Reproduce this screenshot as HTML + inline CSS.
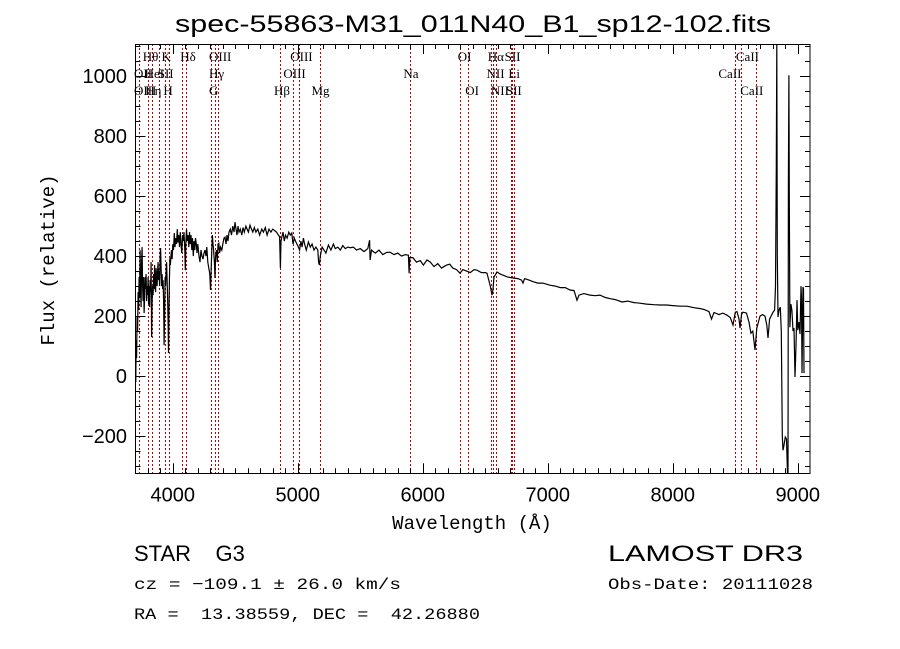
<!DOCTYPE html>
<html><head><meta charset="utf-8"><style>
html,body{margin:0;padding:0;background:#fff;}
svg{display:block;}
text{white-space:pre;}
</style></head><body>
<svg id="chart" width="900" height="649" xmlns="http://www.w3.org/2000/svg" font-family="Liberation Sans, sans-serif">
<rect x="0" y="0" width="900" height="649" fill="#fff"/>
<text x="473" y="32" font-size="24" text-anchor="middle" textLength="596" lengthAdjust="spacingAndGlyphs">spec-55863-M31_011N40_B1_sp12-102.fits</text>
<g id="lines"></g>
<g id="labels" font-family="Liberation Serif, serif" font-size="13"></g>
<path id="spec" fill="none" stroke="#000" stroke-width="1.2"/>
<rect x="135.5" y="44.5" width="674.5" height="429" fill="none" stroke="#000" stroke-width="1"/>
<g id="axes"></g>
<text x="472" y="529" font-size="19" text-anchor="middle" font-family="Liberation Mono, monospace">Wavelength (Å)</text>
<text transform="translate(54,260) rotate(-90)" font-size="19" text-anchor="middle" font-family="Liberation Mono, monospace">Flux (relative)</text>
<text x="134" y="561" font-size="22" font-family="Liberation Sans, sans-serif" xml:space="preserve">STAR    G3</text>
<text x="608" y="561" font-size="22" font-family="Liberation Sans, sans-serif" textLength="195" lengthAdjust="spacingAndGlyphs">LAMOST DR3</text>
<text x="134" y="589" font-size="16" font-family="Liberation Mono, monospace" textLength="267" lengthAdjust="spacingAndGlyphs">cz = −109.1 ± 26.0 km/s</text>
<text x="608" y="589" font-size="16" font-family="Liberation Mono, monospace" textLength="205" lengthAdjust="spacingAndGlyphs">Obs-Date: 20111028</text>
<text x="134" y="619" font-size="16" font-family="Liberation Mono, monospace" textLength="346" lengthAdjust="spacingAndGlyphs" xml:space="preserve">RA =  13.38559, DEC =  42.26880</text>
</svg>
<script>
const wave=[3704,3707,3711,3715,3719,3723,3727,3731,3735,3739,3743,3747,3751,3755,3759,3763,3767,3771,3775,3779,3783,3787,3791,3795,3799,3803,3807,3811,3815,3819,3823,3827,3831,3835,3839,3843,3847,3851,3855,3859,3863,3867,3871,3875,3879,3883,3887,3891,3895,3899,3903,3907,3911,3915,3919,3923,3927,3931,3935,3939,3943,3947,3951,3955,3959,3963,3966,3969,3973,3977,3981,3985,3990,3995,4000,4006,4012,4018,4024,4030,4036,4042,4048,4054,4060,4066,4072,4078,4084,4090,4096,4100,4104,4110,4116,4122,4128,4134,4140,4146,4152,4158,4164,4170,4176,4182,4188,4194,4200,4210,4218,4226,4234,4242,4250,4258,4266,4272,4280,4288,4296,4302,4306,4312,4317,4322,4327,4333,4338,4343,4350,4356,4362,4368,4375,4382,4392,4400,4410,4418,4426,4434,4442,4450,4460,4470,4480,4490,4498,4506,4514,4522,4530,4540,4552,4562,4572,4585,4595,4605,4618,4630,4640,4652,4665,4680,4695,4712,4725,4740,4755,4770,4785,4800,4815,4830,4845,4855,4861,4866,4872,4882,4892,4902,4915,4928,4940,4952,4962,4972,4982,4994,5005,5015,5025,5035,5045,5055,5068,5085,5100,5115,5130,5145,5160,5167,5173,5180,5195,5210,5225,5245,5265,5285,5300,5320,5340,5360,5380,5400,5420,5445,5470,5500,5530,5560,5575,5579,5590,5620,5650,5680,5710,5738,5770,5800,5830,5860,5885,5891,5896,5920,5950,5980,6005,6034,6060,6090,6120,6150,6162,6190,6216,6240,6270,6298,6320,6350,6380,6410,6434,6470,6500,6514,6540,6554,6562,6570,6594,6620,6650,6680,6722,6760,6790,6802,6815,6850,6880,6920,6960,7018,7060,7100,7140,7178,7210,7234,7250,7290,7338,7380,7418,7460,7500,7540,7594,7640,7690,7738,7790,7850,7898,7950,8000,8060,8114,8170,8220,8250,8290,8310,8330,8370,8400,8434,8460,8482,8500,8514,8530,8538,8550,8562,8590,8610,8625,8640,8658,8672,8698,8718,8738,8752,8762,8775,8802,8815,8822,8828,8832,8836,8842,8850,8860,8868,8876,8882,8890,8900,8910,8918,8922,8925,8929,8932,8937,8945,8953,8962,8970,8978,8986,8994,9000,9010,9018,9026,9030,9034,9042,9046,9050];
const flux=[-20,120,60,200,150,280,220,330,260,420,300,230,380,430,300,250,330,210,260,330,290,340,250,300,270,330,240,300,230,320,280,380,130,250,300,270,340,290,370,300,280,360,330,300,350,380,320,350,300,390,427,360,300,340,290,320,250,103,200,330,300,350,380,320,260,180,77,200,320,393,370,400,420,390,440,420,477,430,460,440,490,445,470,430,480,440,410,470,450,480,420,353,440,490,450,470,430,480,440,470,420,460,400,450,420,460,440,410,440,400,380,420,400,390,410,420,400,430,380,360,340,287,340,420,470,440,420,380,327,400,420,380,440,443,410,430,420,440,460,463,440,470,450,480,490,470,500,480,513,490,470,500,480,490,470,495,480,500,490,480,503,490,480,495,480,490,470,490,480,495,470,490,480,490,485,480,470,465,360,450,463,480,450,470,460,480,470,477,440,460,450,440,430,420,450,430,460,440,420,447,430,440,420,430,420,380,370,400,430,420,410,437,420,440,425,430,420,435,425,430,428,430,420,425,415,425,453,387,420,410,420,405,412,413,405,410,400,405,403,343,395,395,380,385,370,387,380,365,375,360,363,370,373,360,355,343,355,350,345,355,353,345,345,343,300,270,290,330,347,340,335,330,327,325,320,310,325,320,315,310,310,303,300,295,295,287,285,253,270,275,270,268,270,262,258,255,247,250,245,243,240,238,237,237,235,233,233,228,225,222,215,190,212,205,210,203,195,170,213,215,190,160,205,213,210,180,143,150,87,160,200,205,200,170,127,190,213,220,300,700,1110,400,197,220,230,150,-200,-247,-230,-203,-210,-324,-330,653,1003,600,163,240,220,150,160,-3,100,253,153,180,140,300,260,10,297,290,10];
const lineWaves=[3727,3798,3835,3889,3934,3969,4072,4102,4304,4340,4363,4861,4959,5007,5175,5894,6300,6364,6548,6563,6583,6708,6717,6731,8498,8542,8662];
const labelText=["Hθ","K","Hδ","OIII","OIII","OI","Hα","SII","CaII","OII","HeI","SII","Hγ","OIII","Na","NII","Li","CaII","OIII","Hη","H","G","Hβ","Mg","OI","NII","SII","CaII"];
const labelWave=[3760,3910,4060,4290,4940,6280,6520,6655,8505,3690,3775,3880,4290,4885,5845,6510,6685,8365,3690,3780,3925,4290,4810,5110,6340,6545,6665,8540];
const labelRow=[0,0,0,0,0,0,0,0,0,1,1,1,1,1,1,1,1,1,2,2,2,2,2,2,2,2,2,2];
const xTicks=[4000,5000,6000,7000,8000,9000];
const yTicks=[-200,0,200,400,600,800,1000];
const X0=135.5,X1=810,Y0=44,Y1=473.3,WMIN=3702,WMAX=9098,FMIN=-324,FMAX=1107;
const xs=w=>X0+(w-WMIN)/(WMAX-WMIN)*(X1-X0);
const ys=f=>Y1-(f-FMIN)/(FMAX-FMIN)*(Y1-Y0);
const clampY=v=>Math.max(Y0,Math.min(Y1,v));
const NS="http://www.w3.org/2000/svg";
function mk(tag,attrs,parent){const e=document.createElementNS(NS,tag);for(const k in attrs)e.setAttribute(k,attrs[k]);parent.appendChild(e);return e;}
let d="";
for(let i=0;i<wave.length;i++){d+=(i?"L":"M")+xs(wave[i]).toFixed(1)+" "+clampY(ys(flux[i])).toFixed(1);}
document.getElementById("spec").setAttribute("d",d);
const lg=document.getElementById("lines");
lineWaves.forEach(w=>{const px=Math.round(xs(w))+0.5;const l=mk("line",{x1:px,x2:px,y1:Y0,y2:Y1,stroke:"#c00000","stroke-width":1,"stroke-dasharray":"2,2"},lg);

});
const lb=document.getElementById("labels");
labelText.forEach((t,i)=>{const e=mk("text",{x:xs(labelWave[i]),y:61+labelRow[i]*17},lb);e.textContent=t;

});
const ax=document.getElementById("axes");
for(let w=3800;w<=9000;w+=100){const major=w%1000===0;const len=major?10:5;const px=Math.round(xs(w))+0.5;
mk("line",{x1:px,x2:px,y1:Y1,y2:Y1-len,stroke:"#000"},ax);
mk("line",{x1:px,x2:px,y1:Y0,y2:Y0+len,stroke:"#000"},ax);}
for(let f=-300;f<=1100;f+=50){const major=f%200===0;const len=major?10:5;const py=Math.round(ys(f))+0.5;
mk("line",{x1:X0,x2:X0+len,y1:py,y2:py,stroke:"#000"},ax);
mk("line",{x1:X1,x2:X1-len,y1:py,y2:py,stroke:"#000"},ax);}
xTicks.forEach(w=>{const t=mk("text",{x:xs(w),y:Y1+28,"font-size":20,"text-anchor":"middle"},ax);t.textContent=w;

});
yTicks.forEach(f=>{const t=mk("text",{x:127,y:ys(f)+7,"font-size":20,"text-anchor":"end"},ax);t.textContent=f<0?"−"+(-f):f;

});
</script>
</body></html>
